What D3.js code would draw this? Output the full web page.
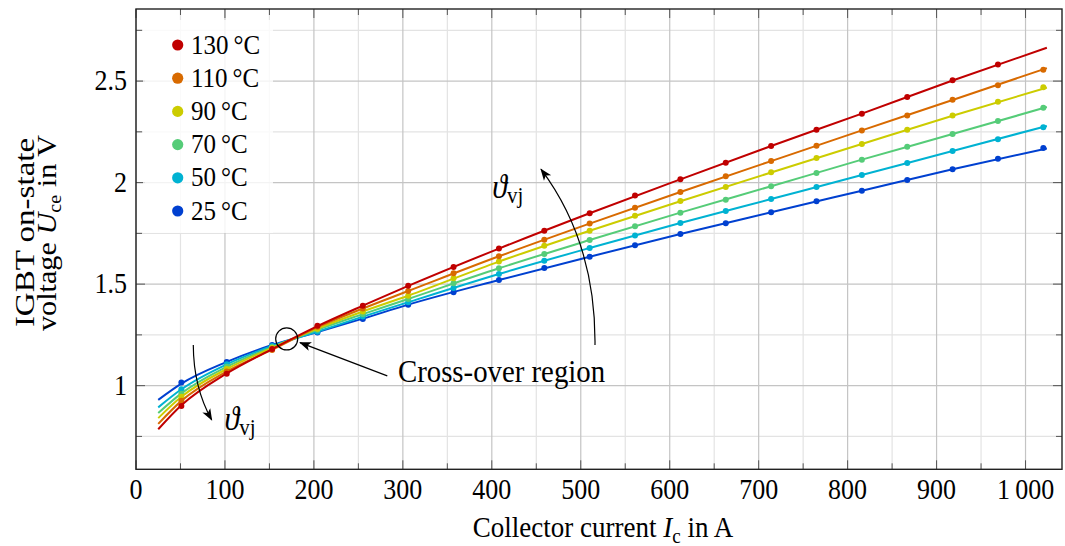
<!DOCTYPE html>
<html>
<head>
<meta charset="utf-8">
<script src="https://cdn.jsdelivr.net/npm/d3@7"></script>
<style>
  html, body { margin: 0; padding: 0; background: #ffffff; }
  svg { display: block; }
  svg text { font-family: "Liberation Serif", "Times New Roman", serif; }
</style>
</head>
<body>
<svg id="chart" width="1065" height="546"></svg>
<script>
// Junction temperatures (legend order) and their colours
const tempLabels = ["130\u2009°C", "110\u2009°C", "90\u2009°C", "70\u2009°C", "50\u2009°C", "25\u2009°C"];
const tempColors = ["#c00000", "#d86a00", "#cccc00", "#55cc78", "#00b2d2", "#0040d0"];

// Measured points: collector current (A)
const measCurrent = [51, 102, 153, 204, 255, 306, 357, 408, 459, 510, 561, 612, 663, 714, 765, 816, 867, 918, 969, 1020];

// Measured on-state voltage (V) per temperature
const meas130 = [0.900, 1.058, 1.180, 1.295, 1.394, 1.492, 1.584, 1.675, 1.763, 1.849, 1.936, 2.016, 2.098, 2.180, 2.260, 2.339, 2.421, 2.504, 2.582];
const meas110 = [0.925, 1.070, 1.175, 1.290, 1.380, 1.466, 1.553, 1.637, 1.719, 1.798, 1.876, 1.954, 2.031, 2.106, 2.182, 2.257, 2.331, 2.408, 2.479, 2.556];
const meas90  = [0.945, 1.082, 1.185, 1.280, 1.365, 1.443, 1.529, 1.612, 1.689, 1.763, 1.837, 1.909, 1.978, 2.051, 2.121, 2.190, 2.260, 2.331, 2.398, 2.469];
const meas70  = [0.960, 1.093, 1.190, 1.275, 1.352, 1.427, 1.504, 1.578, 1.648, 1.717, 1.785, 1.852, 1.916, 1.982, 2.047, 2.113, 2.177, 2.239, 2.303, 2.369];
const meas50  = [0.982, 1.105, 1.195, 1.265, 1.340, 1.411, 1.481, 1.550, 1.615, 1.678, 1.739, 1.801, 1.860, 1.919, 1.978, 2.037, 2.096, 2.156, 2.213, 2.272];
const meas25  = [1.015, 1.117, 1.200, 1.262, 1.328, 1.399, 1.460, 1.520, 1.580, 1.635, 1.691, 1.747, 1.800, 1.854, 1.908, 1.960, 2.013, 2.066, 2.118, 2.170];

// Fitted model curves: current (A) and voltage (V)
const fitCurrent = [25, 51, 102, 153, 204, 255, 306, 408, 510, 612, 714, 816, 918, 1024];
const fit130 = [0.785, 0.903, 1.060, 1.180, 1.293, 1.394, 1.491, 1.675, 1.849, 2.016, 2.180, 2.340, 2.503, 2.664];
const fit110 = [0.812, 0.925, 1.070, 1.177, 1.288, 1.380, 1.466, 1.637, 1.798, 1.954, 2.106, 2.257, 2.407, 2.564];
const fit90  = [0.840, 0.945, 1.082, 1.186, 1.281, 1.365, 1.443, 1.611, 1.763, 1.908, 2.050, 2.190, 2.329, 2.468];
const fit70  = [0.865, 0.962, 1.093, 1.190, 1.275, 1.352, 1.427, 1.578, 1.717, 1.852, 1.982, 2.113, 2.239, 2.372];
const fit50  = [0.893, 0.982, 1.105, 1.195, 1.266, 1.340, 1.411, 1.550, 1.678, 1.801, 1.919, 2.037, 2.156, 2.279];
const fit25  = [0.930, 1.010, 1.117, 1.200, 1.264, 1.330, 1.399, 1.520, 1.635, 1.747, 1.854, 1.960, 2.066, 2.168];

// Axis ticks
const xMajorTicks = [0, 100, 200, 300, 400, 500, 600, 700, 800, 900, 1000];
const xTickLabels = ["0", "100", "200", "300", "400", "500", "600", "700", "800", "900", "1\u2009000"];
const xMinorTicks = [50, 150, 250, 350, 450, 550, 650, 750, 850, 950];
const yMajorTicks = [1, 1.5, 2, 2.5];
const yTickLabels = ["1", "1.5", "2", "2.5"];
const yMinorTicks = [0.75, 1.25, 1.75, 2.25, 2.75];

const measSeries = [meas130, meas110, meas90, meas70, meas50, meas25];
const fitSeries = [fit130, fit110, fit90, fit70, fit50, fit25];

// ---- layout ----
const svg = d3.select("#chart");
const plot = { left: 136, right: 1062, top: 9, bottom: 469.3 };
const stretch = 1.1; // text glyphs are drawn slightly taller than wide

const x = d3.scaleLinear().domain([0, 1041]).range([plot.left, plot.right]);
const y = d3.scaleLinear().domain([0.588, 2.855]).range([plot.bottom, plot.top]);

// place horizontal text at (px, py) with the vertical stretch applied
function placed(sel, px, py) {
  return sel.attr("transform", `translate(${px},${py}) scale(1,${stretch})`);
}

// ---- grid ----
const grid = svg.append("g");
grid.selectAll("line.vmin").data(xMinorTicks).join("line")
  .attr("x1", d => x(d)).attr("x2", d => x(d))
  .attr("y1", plot.top).attr("y2", plot.bottom)
  .attr("stroke", "#e3e3e3").attr("stroke-width", 1.2);
grid.selectAll("line.hmin").data(yMinorTicks).join("line")
  .attr("y1", d => y(d)).attr("y2", d => y(d))
  .attr("x1", plot.left).attr("x2", plot.right)
  .attr("stroke", "#e3e3e3").attr("stroke-width", 1.2);
grid.selectAll("line.vmaj").data(xMajorTicks).join("line")
  .attr("x1", d => x(d)).attr("x2", d => x(d))
  .attr("y1", plot.top).attr("y2", plot.bottom)
  .attr("stroke", "#c4c4c4").attr("stroke-width", 1.2);
grid.selectAll("line.hmaj").data(yMajorTicks).join("line")
  .attr("y1", d => y(d)).attr("y2", d => y(d))
  .attr("x1", plot.left).attr("x2", plot.right)
  .attr("stroke", "#c4c4c4").attr("stroke-width", 1.2);

// ---- curves and markers (lowest temperature drawn first) ----
const line = d3.line()
  .x(d => x(d[0])).y(d => y(d[1]))
  .curve(d3.curveMonotoneX);

const series = svg.append("g");
for (let i = fitSeries.length - 1; i >= 0; i--) {
  const fitPts = fitCurrent.map((c, k) => [c, fitSeries[i][k]]);
  series.append("path")
    .attr("d", line(fitPts))
    .attr("fill", "none")
    .attr("stroke", tempColors[i])
    .attr("stroke-width", 2);
  const pts = measSeries[i].map((v, k) => [measCurrent[k], v]);
  series.selectAll(null).data(pts).join("circle")
    .attr("cx", d => x(d[0])).attr("cy", d => y(d[1]))
    .attr("r", 3)
    .attr("fill", tempColors[i]);
}

// ---- frame and ticks ----
const axes = svg.append("g").attr("stroke", "#555").attr("stroke-width", 1);
const majorLen = 9, minorLen = 6;
xMajorTicks.forEach(t => {
  axes.append("line").attr("x1", x(t)).attr("x2", x(t)).attr("y1", plot.bottom).attr("y2", plot.bottom - majorLen);
  axes.append("line").attr("x1", x(t)).attr("x2", x(t)).attr("y1", plot.top).attr("y2", plot.top + majorLen);
});
xMinorTicks.forEach(t => {
  axes.append("line").attr("x1", x(t)).attr("x2", x(t)).attr("y1", plot.bottom).attr("y2", plot.bottom - minorLen);
  axes.append("line").attr("x1", x(t)).attr("x2", x(t)).attr("y1", plot.top).attr("y2", plot.top + minorLen);
});
yMajorTicks.forEach(t => {
  axes.append("line").attr("y1", y(t)).attr("y2", y(t)).attr("x1", plot.left).attr("x2", plot.left + majorLen);
  axes.append("line").attr("y1", y(t)).attr("y2", y(t)).attr("x1", plot.right).attr("x2", plot.right - majorLen);
});
yMinorTicks.forEach(t => {
  axes.append("line").attr("y1", y(t)).attr("y2", y(t)).attr("x1", plot.left).attr("x2", plot.left + minorLen);
  axes.append("line").attr("y1", y(t)).attr("y2", y(t)).attr("x1", plot.right).attr("x2", plot.right - minorLen);
});
svg.append("rect")
  .attr("x", plot.left).attr("y", plot.top)
  .attr("width", plot.right - plot.left).attr("height", plot.bottom - plot.top)
  .attr("fill", "none").attr("stroke", "#222").attr("stroke-width", 1.4);

// ---- tick labels ----
svg.append("g").selectAll("text").data(xMajorTicks).join("text")
  .attr("transform", d => `translate(${x(d)},499) scale(1,${stretch})`)
  .attr("text-anchor", "middle")
  .attr("font-size", 26)
  .text((d, i) => xTickLabels[i]);
svg.append("g").selectAll("text").data(yMajorTicks).join("text")
  .attr("transform", d => `translate(127,${y(d) + 9}) scale(1,${stretch})`)
  .attr("text-anchor", "end")
  .attr("font-size", 26)
  .text((d, i) => yTickLabels[i]);

// ---- axis titles ----
const xTitle = placed(svg.append("text"), 603, 537)
  .attr("text-anchor", "middle")
  .attr("font-size", 27);
xTitle.append("tspan").text("Collector current ");
xTitle.append("tspan").attr("font-style", "italic").text("I");
xTitle.append("tspan").attr("font-size", 19).attr("dy", 5).text("c");
xTitle.append("tspan").attr("dy", -5).text(" in A");

// two-line rotated title, glyphs lengthened along the text direction
const yTitle = svg.append("g");
yTitle.append("text")
  .attr("transform", "translate(33.5,232.5) rotate(-90) scale(1.18,1)")
  .attr("text-anchor", "middle")
  .attr("font-size", 28)
  .text("IGBT on-state");
const yt2 = yTitle.append("text")
  .attr("transform", "translate(56,233) rotate(-90) scale(1.12,1)")
  .attr("text-anchor", "middle")
  .attr("font-size", 27);
yt2.append("tspan").text("voltage ");
yt2.append("tspan").attr("font-style", "italic").text("U");
yt2.append("tspan").attr("font-size", 18).attr("dy", 5).text("ce");
yt2.append("tspan").attr("dy", -5).text(" in V");

// ---- legend ----
const legend = svg.append("g");
legend.append("rect")
  .attr("x", 143).attr("y", 20).attr("width", 130).attr("height", 213)
  .attr("fill", "#ffffff").attr("fill-opacity", 0.8);
tempLabels.forEach((lab, i) => {
  const cy = 45 + i * 33.2;
  legend.append("circle").attr("cx", 177.7).attr("cy", cy).attr("r", 5.6).attr("fill", tempColors[i]);
  placed(legend.append("text"), lab.length > 6 ? 185 : 191, cy + 8.5)
    .attr("font-size", 25)
    .text(lab);
});

// ---- annotations ----
const defs = svg.append("defs");
defs.append("marker")
  .attr("id", "stealth")
  .attr("viewBox", "-12 -6 14 12")
  .attr("markerWidth", 14).attr("markerHeight", 12)
  .attr("markerUnits", "userSpaceOnUse")
  .attr("refX", 0).attr("refY", 0)
  .attr("orient", "auto")
  .append("path")
  .attr("d", "M1,0 L-11,-4.5 L-8,0 L-11,4.5 Z")
  .attr("fill", "#000");

const ann = svg.append("g");

// cross-over circle and pointer
const crossPt = [169.4, 1.230];
ann.append("circle")
  .attr("cx", x(crossPt[0])).attr("cy", y(crossPt[1]))
  .attr("r", 11)
  .attr("fill", "none").attr("stroke", "#000").attr("stroke-width", 1.2);
const pointerFrom = [282.5, 1.048], pointerTo = [184.4, 1.212];
ann.append("line")
  .attr("x1", x(pointerFrom[0])).attr("y1", y(pointerFrom[1]))
  .attr("x2", x(pointerTo[0])).attr("y2", y(pointerTo[1]))
  .attr("stroke", "#000").attr("stroke-width", 1.2)
  .attr("marker-end", "url(#stealth)");
placed(ann.append("text"), x(294.5), y(1.018))
  .attr("font-size", 28.8)
  .text("Cross-over region");

// temperature-trend arcs
function arc(p0, c, p1) {
  const p = d3.path();
  p.moveTo(x(p0[0]), y(p0[1]));
  p.quadraticCurveTo(x(c[0]), y(c[1]), x(p1[0]), y(p1[1]));
  return p.toString();
}
ann.append("path")
  .attr("d", arc([516, 1.200], [517.1, 1.703], [455.3, 2.066]))
  .attr("fill", "none").attr("stroke", "#000").attr("stroke-width", 1.2)
  .attr("marker-end", "url(#stealth)");
ann.append("path")
  .attr("d", arc([64.4, 1.200], [64.6, 0.991], [85.1, 0.831]))
  .attr("fill", "none").attr("stroke", "#000").attr("stroke-width", 1.2)
  .attr("marker-end", "url(#stealth)");

function thetaLabel(cur, volt) {
  const t = placed(ann.append("text"), x(cur), y(volt)).attr("font-size", 30);
  t.append("tspan").attr("font-style", "italic").text("\u03D1");
  t.append("tspan").attr("font-size", 21).attr("dy", 5).text("vj");
}
thetaLabel(400.5, 1.925);
thetaLabel(99.5, 0.782);
</script>
</body>
</html>
